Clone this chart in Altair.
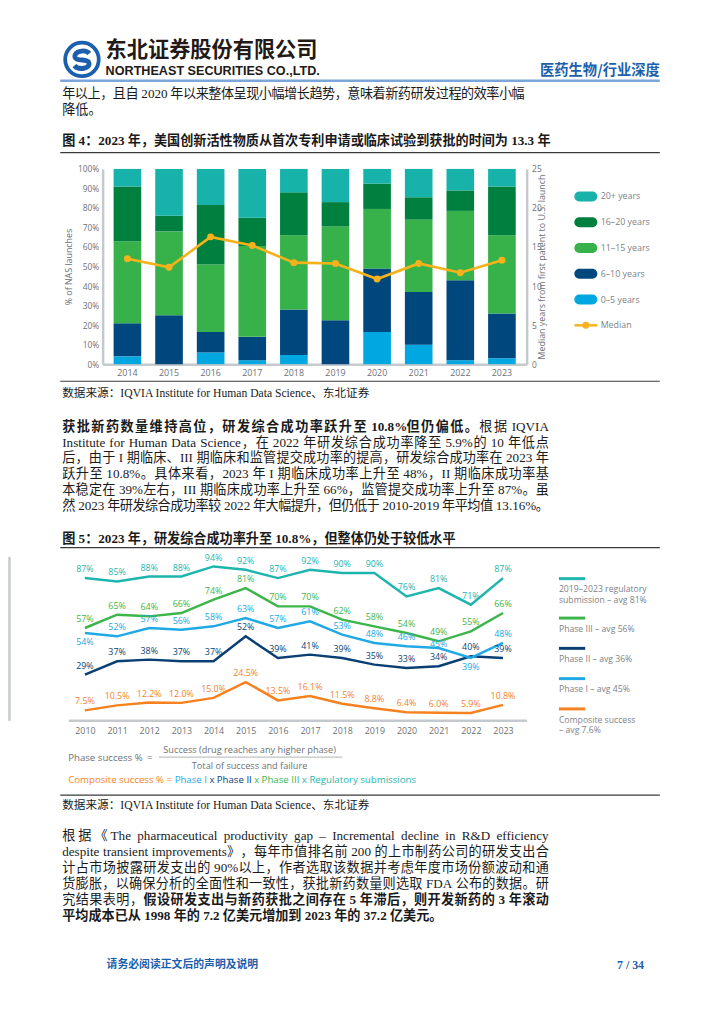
import altair as alt
import pandas as pd

# ---------------- chart values ----------------
bar_years = ["2014", "2015", "2016", "2017", "2018", "2019", "2020", "2021", "2022", "2023"]
bar_segments = ["0–5 years", "6–10 years", "11–15 years", "16–20 years", "20+ years"]
share_0_5 = [4, 0, 6, 2, 4.7, 0, 16.5, 10, 2, 3]
share_6_10 = [17, 25, 10.5, 12, 23.3, 22.5, 32.5, 27, 41, 23]
share_11_15 = [42, 43, 34.5, 46.5, 38, 48, 30.5, 37, 35.5, 40]
share_16_20 = [28, 8, 30.5, 14.5, 22, 12.5, 13, 11.5, 10.5, 25]
share_20_plus = [9, 24, 18.5, 25, 12, 17, 7.5, 14.5, 11, 9]
median_years = [13.5, 12.4, 16.3, 15.2, 13.0, 12.9, 10.9, 12.9, 11.7, 13.3]
pct_ticks = [0, 10, 20, 30, 40, 50, 60, 70, 80, 90, 100]
median_ticks = [0, 5, 10, 15, 20, 25]
bar_legend_order = ["20+ years", "16–20 years", "11–15 years", "6–10 years", "0–5 years"]

line_years = [2010, 2011, 2012, 2013, 2014, 2015, 2016, 2017, 2018, 2019, 2020, 2021, 2022, 2023]
series_names = ["Regulatory", "Phase III", "Phase II", "Phase I", "Composite"]
regulatory = [87, 85, 88, 88, 94, 92, 87, 92, 90, 90, 76, 81, 71, 87]
phase3 = [57, 65, 64, 66, 74, 81, 70, 70, 62, 58, 54, 49, 55, 66]
phase2 = [29, 37, 38, 37, 37, 52, 39, 41, 39, 35, 33, 34, 40, 39]
phase1 = [54, 52, 57, 56, 58, 63, 57, 61, 53, 48, 46, 45, 39, 48]
composite = [7.5, 10.5, 12.2, 12.0, 15.0, 24.5, 13.5, 16.1, 11.5, 8.8, 6.4, 6.0, 5.9, 10.8]
labels_below = [("Phase I", 2010), ("Phase I", 2022)]
labels_close = [("Phase I", 2021)]
legend_line1 = ["2019–2023 regulatory", "Phase III – avg 56%", "Phase II – avg 36%",
                "Phase I – avg 45%", "Composite success"]
legend_line2 = ["submission – avg 81%", "", "", "", "– avg 7.6%"]

# ---------------- page text ----------------
company_cn = "东北证券股份有限公司"
company_en = "NORTHEAST SECURITIES CO.,LTD."
header_right = "医药生物/行业深度"
p1_line1 = "年以上，且自 2020 年以来整体呈现小幅增长趋势，意味着新药研发过程的效率小幅"
p1_line2 = "降低。"
fig4_title = "图 4：2023 年，美国创新活性物质从首次专利申请或临床试验到获批的时间为 13.3 年"
source_text = "数据来源：IQVIA Institute for Human Data Science、东北证券"
p2_first_bold = "获批新药数量维持高位，研发综合成功率跃升至 10.8%但仍偏低。"
p2_first_tail = "根据 IQVIA"
p2_lines = [
    "Institute for Human Data Science，在 2022 年研发综合成功率降至 5.9%的 10 年低点",
    "后，由于 I 期临床、III 期临床和监管提交成功率的提高，研发综合成功率在 2023 年",
    "跃升至 10.8%。具体来看，2023 年 I 期临床成功率上升至 48%，II 期临床成功率基",
    "本稳定在 39%左右，III 期临床成功率上升至 66%，监管提交成功率上升至 87%。虽",
    "然 2023 年研发综合成功率较 2022 年大幅提升，但仍低于 2010-2019 年平均值 13.16%。",
]
fig5_title = "图 5：2023 年，研发综合成功率升至 10.8%，但整体仍处于较低水平"
formula_left = "Phase success %"
formula_eq = "="
formula_num = "Success (drug reaches any higher phase)"
formula_den = "Total of success and failure"
composite_parts = ["Composite success % =", "Phase I", "x", "Phase II", "x", "Phase III", "x Regulatory submissions"]
p3_lines = [
    "根据《The pharmaceutical productivity gap – Incremental decline in R&D efficiency",
    "despite transient improvements》，每年市值排名前 200 的上市制药公司的研发支出合",
    "计占市场披露研发支出的 90%以上，作者选取该数据并考虑年度市场份额波动和通",
    "货膨胀，以确保分析的全面性和一致性，获批新药数量则选取 FDA 公布的数据。研",
]
p3_l5_normal = "究结果表明，"
p3_l5_bold = "假设研发支出与新药获批之间存在 5 年滞后，则开发新药的 3 年滚动"
p3_l6_bold = "平均成本已从 1998 年的 7.2 亿美元增加到 2023 年的 37.2 亿美元。"
footer_left = "请务必阅读正文后的声明及说明"
footer_right = "7 / 34"

# ---------------- styles ----------------
W = 716
SERIF = "Liberation Serif, Noto Sans CJK SC, serif"
CJK = "Noto Sans CJK SC"
CF = "Open Sans"
BLUE = "#1b5fad"
AX = "#6c7177"
LEG = "#7d8288"
DOM = "#c5c9cd"
GOLD = "#F6B11B"
INK = "#1a1a1a"
SEG_COLORS = ["#00A7E1", "#00477E", "#37B24B", "#00803E", "#17B3AB"]
SER_COLORS = ["#1DB5AE", "#3CB54A", "#0A3F74", "#20A9E5", "#F6821F"]
BODY = 13.3
LH = 16.2
COL_L, COL_R = 54, 547.5

ONE = pd.DataFrame({"k": [0]})


def T(s, x, y, size=BODY, weight="normal", color=INK, align="left", font=SERIF, baseline="middle"):
    return alt.Chart(ONE).mark_text(text=s, fontSize=size, fontWeight=weight, color=color, align=align,
                                    baseline=baseline, font=font).encode(x=alt.value(x), y=alt.value(y))


def HR(x1, x2, y, color="#3a3a3a", width=1.2):
    return alt.Chart(ONE).mark_rule(color=color, strokeWidth=width).encode(
        x=alt.value(x1), x2=alt.value(x2), y=alt.value(y))


# ---- simple justification of a body line (text layout helper) ----
TIMES_W = {"a": .444, "b": .5, "c": .444, "d": .5, "e": .444, "f": .333, "g": .5, "h": .5, "i": .278,
           "j": .278, "k": .5, "l": .278, "m": .778, "n": .5, "o": .5, "p": .5, "q": .5, "r": .333,
           "s": .389, "t": .278, "u": .5, "v": .5, "w": .722, "x": .5, "y": .5, "z": .444,
           "A": .722, "B": .667, "C": .667, "D": .722, "E": .611, "F": .556, "G": .722, "H": .722,
           "I": .333, "J": .389, "K": .722, "L": .611, "M": .889, "N": .722, "O": .722, "P": .556,
           "Q": .722, "R": .667, "S": .556, "T": .611, "U": .722, "V": .722, "W": .944, "X": .722,
           "Y": .722, "Z": .611, ".": .25, ",": .25, "%": .833, "-": .333, "–": .5, "&": .778,
           "(": .333, ")": .333}


def is_cjk(ch):
    return ord(ch) >= 0x2E80


def tok_w(tok, size):
    return sum(size if is_cjk(c) else TIMES_W.get(c, 0.5) * size for c in tok)


def justified(segments, y, x0=COL_L, x1=COL_R, size=BODY):
    toks = []
    for text, wt in segments:
        buf, sp = "", 0
        for ch in text:
            if ch == " ":
                if buf:
                    toks.append((buf, wt, sp)); buf, sp = "", 0
                sp += 1
            elif is_cjk(ch):
                if buf:
                    toks.append((buf, wt, sp)); buf, sp = "", 0
                toks.append((ch, wt, sp)); sp = 0
            else:
                buf += ch
        if buf:
            toks.append((buf, wt, sp))
    natural = sum(tok_w(t, size) for t, _, _ in toks) + sum(s for _, _, s in toks[1:]) * 0.25 * size
    extra = (x1 - x0 - natural) / max(len(toks) - 1, 1)
    rows, cur = [], x0
    for i, (t, wt, sp) in enumerate(toks):
        if i > 0:
            cur += sp * 0.25 * size + extra
        rows.append({"t": t, "wt": wt, "px": cur})
        cur += tok_w(t, size)
    df = pd.DataFrame(rows)
    layers = []
    for wt in df["wt"].unique():
        sub = df[df["wt"] == wt][["t", "px"]]
        layers.append(alt.Chart(sub).mark_text(align="left", baseline="middle", fontSize=size,
                                               fontWeight=wt, font=SERIF, color=INK).encode(
            x=alt.X("px:Q", scale=None), y=alt.value(y), text="t:N"))
    return layers


# ================= Row 1: header, paragraph, figure 4 title =================
S_PATH = ("M0.62,-0.5 C0.3,-0.9 -0.72,-0.72 -0.58,-0.18 C-0.46,0.22 0.48,-0.12 0.58,0.28 "
          "C0.72,0.8 -0.3,0.92 -0.64,0.52")
logo_ring = alt.Chart(ONE).mark_point(shape="circle", filled=False, stroke=BLUE, strokeWidth=3.8,
                                      size=34 * 34, opacity=1).encode(x=alt.value(74), y=alt.value(44))
logo_s = alt.Chart(ONE).mark_point(shape=S_PATH, filled=False, stroke=BLUE, strokeWidth=5,
                                   size=24 * 24, opacity=1).encode(x=alt.value(74), y=alt.value(44))
row1_layers = [
    logo_ring, logo_s,
    T(company_cn, 98, 35.5, size=21.5, weight="bold", color="#231916", font=CJK),
    T(company_en, 98, 56, size=12.8, weight="bold", color="#231916", font="Liberation Sans"),
    T(header_right, 660, 55.5, size=14.5, weight="bold", color=BLUE, align="right", font=CJK),
    HR(52, 660, 65.5, color="#7ba6d9", width=2.5),
]
row1_layers += justified([(p1_line1, "normal")], 79.5, x1=523)
row1_layers.append(T(p1_line2, COL_L, 79.5 + LH))
row1_layers.append(T(fig4_title, COL_L, 127, weight="bold"))
row1_layers.append(HR(52, 660, 138.5))
row1 = alt.layer(*row1_layers).properties(width=W, height=154.7)

# ================= Row 2: stacked bar chart =================
bar_rows = []
for i, yr in enumerate(bar_years):
    for j, arr in enumerate([share_0_5, share_6_10, share_11_15, share_16_20, share_20_plus]):
        bar_rows.append({"year": yr, "seg": bar_segments[j], "stack_order": j, "share": arr[i]})
bar_df = pd.DataFrame(bar_rows)
med_df = pd.DataFrame({"year": bar_years, "median": median_years})

xband = alt.Scale(domain=bar_years, range=[95, 525], paddingInner=0.336, paddingOuter=0.263)
x_bar = alt.X("year:N", scale=xband, sort=bar_years,
              axis=alt.Axis(title=None, ticks=False, labelAngle=0, labelFont=CF, labelFontSize=9,
                            labelColor=AX, labelPadding=5, domainColor=DOM, domainWidth=2.5))
seg_scale = alt.Scale(domain=bar_segments, range=SEG_COLORS)

bars = alt.Chart(bar_df).mark_bar().encode(
    x=x_bar,
    y=alt.Y("share:Q", stack="zero", scale=alt.Scale(domain=[0, 100], nice=False),
            axis=alt.Axis(orient="left", offset=-95, values=pct_ticks, labelExpr="datum.value + '%'",
                          ticks=False, grid=False, domainColor=DOM, domainWidth=2.5, labelFont=CF,
                          labelFontSize=8.5, labelColor=AX, labelPadding=4, title="% of NAS launches",
                          titleFont=CF, titleFontSize=9, titleFontWeight="normal", titleColor=AX,
                          titlePadding=4)),
    color=alt.Color("seg:N", scale=seg_scale, legend=None),
    order=alt.Order("stack_order:Q", sort="ascending"),
)
med_line = alt.Chart(med_df).mark_line(color=GOLD, strokeWidth=2.6).encode(
    x=x_bar,
    y=alt.Y("median:Q", scale=alt.Scale(domain=[0, 25], nice=False),
            axis=alt.Axis(orient="right", offset=-191, values=median_ticks, ticks=False, grid=False,
                          domainColor=DOM, domainWidth=2.5, labelFont=CF, labelFontSize=8.5,
                          labelColor=AX, labelPadding=5,
                          title="Median years from first patent to U.S. launch", titleAngle=270,
                          titleFont=CF, titleFontSize=9, titleFontWeight="normal", titleColor=AX,
                          titlePadding=5)),
)
med_pts = alt.Chart(med_df).mark_point(filled=True, color=GOLD, size=50, opacity=1).encode(
    x=x_bar, y=alt.Y("median:Q", scale=alt.Scale(domain=[0, 25], nice=False), axis=None))

PILL = "M-0.55,-0.42 L0.55,-0.42 A0.42,0.42 0 0 1 0.55,0.42 L-0.55,0.42 A0.42,0.42 0 0 1 -0.55,-0.42 Z"
leg_df = pd.DataFrame({"seg": bar_legend_order, "slot": list(range(len(bar_legend_order)))})
med_leg_df = pd.DataFrame({"lab": ["Median"], "slot": [len(bar_legend_order)]})
leg_y = alt.Y("slot:Q", scale=alt.Scale(domain=[0, 5], range=[28, 158.6], nice=False), axis=None)
leg_sw = alt.Chart(leg_df).mark_point(shape=PILL, filled=True, size=576, opacity=1).encode(
    x=alt.value(585), y=leg_y, color=alt.Color("seg:N", scale=seg_scale, legend=None))
leg_tx = alt.Chart(leg_df).mark_text(align="left", baseline="middle", font=CF, fontSize=9, color=LEG).encode(
    x=alt.value(600), y=leg_y, text="seg:N")
med_leg_rule = alt.Chart(med_leg_df).mark_rule(color=GOLD, strokeWidth=2.5).encode(
    x=alt.value(573.5), x2=alt.value(596.5), y=leg_y)
med_leg_pt = alt.Chart(med_leg_df).mark_point(filled=True, color=GOLD, size=50, opacity=1).encode(
    x=alt.value(585), y=leg_y)
med_leg_tx = alt.Chart(med_leg_df).mark_text(align="left", baseline="middle", font=CF, fontSize=9,
                                             color=LEG).encode(x=alt.value(600), y=leg_y, text="lab:N")

row2 = alt.layer(bars, med_line, med_pts, leg_sw, leg_tx, med_leg_rule, med_leg_pt, med_leg_tx).resolve_scale(
    y="independent").properties(width=W, height=198)

# ================= Row 3: source, paragraph, figure 5 title =================
row3_layers = [
    HR(52, 660, 17.3),
    T(source_text, COL_L, 28.8, size=11.8),
]
row3_layers += justified([(p2_first_bold, "bold"), (p2_first_tail, "normal")], 63.3)
for i, s in enumerate(p2_lines):
    row3_layers += justified([(s, "normal")], 63.3 + (i + 1) * LH)
row3_layers.append(T(fig5_title, COL_L, 177, weight="bold"))
row3_layers.append(HR(52, 660, 186))
row3 = alt.layer(*row3_layers).properties(width=W, height=194.1)

# ================= Row 4: line chart =================
series_values = [regulatory, phase3, phase2, phase1, composite]
line_rows = []
for name, vals in zip(series_names, series_values):
    for yr, v in zip(line_years, vals):
        lab = f"{v:.1f}%" if name == "Composite" else f"{v:.0f}%"
        place = 1 if (name, yr) in labels_below else (2 if (name, yr) in labels_close else 0)
        line_rows.append({"series": name, "year": yr, "value": v, "lab": lab, "place": place})
line_df = pd.DataFrame(line_rows)
ser_scale = alt.Scale(domain=series_names, range=SER_COLORS)

x_line = alt.X("year:Q", scale=alt.Scale(domain=[2009.488, 2023.736], range=[60.3, 525], nice=False, zero=False),
               axis=alt.Axis(values=line_years, format="d", ticks=False, grid=False, labelFont=CF,
                             labelFontSize=9, labelColor=AX, labelPadding=6, domainColor=DOM,
                             domainWidth=2.5, title=None, labelFlush=False, labelOverlap=False))
pct_scale = alt.Scale(domain=[1.5, 100], nice=False, zero=False)
lines = alt.Chart(line_df).mark_line(strokeWidth=2.5).encode(
    x=x_line,
    y=alt.Y("value:Q", scale=pct_scale,
            axis=alt.Axis(labels=False, ticks=False, grid=False, title=None, domainColor=DOM, domainWidth=2.5)),
    color=alt.Color("series:N", scale=ser_scale, legend=None),
)


def value_labels(place, dy):
    return alt.Chart(line_df).transform_filter(f"datum.place == {place}").mark_text(
        dy=dy, font=CF, fontSize=9).encode(
        x=x_line, y=alt.Y("value:Q", scale=pct_scale, axis=None), text="lab:N",
        color=alt.Color("series:N", scale=ser_scale, legend=None))


lab_above = value_labels(0, -9)
lab_below = value_labels(1, 9)
lab_close = value_labels(2, -3.5)

# legend slots from label line counts
GAP, LLH = 30.7, 10.2
slots, acc = [], 0.0
for l2 in legend_line2:
    slots.append(acc)
    acc += GAP + (9.3 if l2 else 0)
leg2_df = pd.DataFrame({"series": series_names, "l1": legend_line1, "l2": legend_line2, "slot": slots})
leg2_y = alt.Y("slot:Q", scale=alt.Scale(domain=[0, 100], range=[22.5, 122.5], nice=False, zero=False), axis=None)
leg2_rule = alt.Chart(leg2_df).mark_rule(strokeWidth=3).encode(
    x=alt.value(557.7), x2=alt.value(584.3), y=leg2_y,
    color=alt.Color("series:N", scale=ser_scale, legend=None))
leg2_tx1 = alt.Chart(leg2_df).mark_text(align="left", baseline="middle", dy=11, font=CF, fontSize=8.8,
                                        color=LEG).encode(x=alt.value(557.7), y=leg2_y, text="l1:N")
leg2_tx2 = alt.Chart(leg2_df).transform_filter("datum.l2 != ''").mark_text(
    align="left", baseline="middle", dy=11 + LLH, font=CF, fontSize=8.8, color=LEG).encode(
    x=alt.value(557.7), y=leg2_y, text="l2:N")

row4 = alt.layer(lines, lab_above, lab_below, lab_close, leg2_rule, leg2_tx1, leg2_tx2).resolve_scale(
    y="independent").properties(width=W, height=166.2)

# ================= Row 5: formula, source, paragraph, footer =================
OS_W = {" ": 0.26, "%": 0.82, "=": 0.57, "C": 0.63, "o": 0.6, "m": 0.93, "p": 0.61, "s": 0.48,
        "i": 0.26, "t": 0.35, "e": 0.56, "u": 0.61, "c": 0.48, "P": 0.59, "h": 0.61, "a": 0.56,
        "I": 0.28, "x": 0.5, "R": 0.59, "g": 0.54, "l": 0.26, "r": 0.41, "y": 0.5, "b": 0.61, "n": 0.61}
FS = 9.8


def tw(s):
    return sum(OS_W.get(ch, 0.55) for ch in s) * FS


comp_colors = ["#F6821F", "#20A9E5", "#0A3F74", "#0A3F74", "#3CB54A", "#3CB54A", "#1DB5AE"]
row5_layers = [
    T(formula_left, 60, 37.5, size=FS, color=AX, font=CF),
    T(formula_eq, 140, 37.5, size=FS, color=AX, font=CF),
    T(formula_num, 244, 29, size=9.3, color=AX, font=CF, align="center"),
    HR(152, 338, 36.5, color="#9a9ea3", width=0.8),
    T(formula_den, 244, 45.5, size=9.3, color=AX, font=CF, align="center"),
]
cx = 60.0
for part, col in zip(composite_parts, comp_colors):
    row5_layers.append(T(part, cx, 60, size=FS, color=col, font=CF))
    cx += tw(part) + tw(" ")
row5_layers += [
    HR(52, 660, 75),
    T(source_text, COL_L, 85, size=11.8),
]
for i, s in enumerate(p3_lines):
    row5_layers += justified([(s, "normal")], 117 + i * LH)
row5_layers += justified([(p3_l5_normal, "normal"), (p3_l5_bold, "bold")], 117 + 4 * LH)
row5_layers.append(T(p3_l6_bold, COL_L, 117 + 5 * LH, weight="bold"))
row5_layers.append(T(footer_left, 99, 247, size=11, weight="bold", color=BLUE, font=CJK))
row5_layers.append(T(footer_right, 644, 247, size=12, weight="bold", color=BLUE, align="right"))
row5 = alt.layer(*row5_layers).properties(width=W, height=303)

chart = alt.vconcat(row1, row2, row3, row4, row5, spacing=0, bounds="flush").resolve_scale(
    color="independent").properties(padding=0).configure_view(stroke="transparent")

chart.save("out.html", embed_options={"renderer": "svg", "actions": False})
